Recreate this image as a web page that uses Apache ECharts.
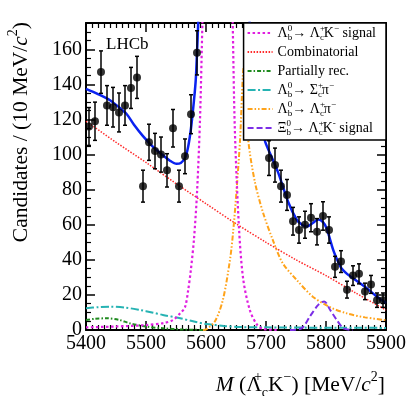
<!DOCTYPE html>
<html>
<head>
<meta charset="utf-8">
<script src="https://cdn.jsdelivr.net/npm/echarts@6/dist/echarts.min.js"></script>
<style>
  html, body { margin: 0; padding: 0; background: #fff; }
  #chart { width: 419px; height: 396px; }
</style>
</head>
<body>
<div id="chart"></div>
<script>
const SERIF = '"Liberation Serif", "DejaVu Serif", serif';

// x axis (MeV/c^2) and y axis ranges
const massMin = 5400;
const massMax = 5900;
const massStep = 100;
const countMax = 175;
const countStep = 20;

// data: bin centres, candidates per 10 MeV, and their errors
const binCentres = [
  5405, 5415, 5425, 5435, 5445, 5455, 5465, 5475, 5485, 5495,
  5505, 5515, 5525, 5535, 5545, 5555, 5565, 5575, 5585, 5595,
  5605, 5615, 5625, 5635, 5645, 5655, 5665, 5675, 5685, 5695,
  5705, 5715, 5725, 5735, 5745, 5755, 5765, 5775, 5785, 5795,
  5805, 5815, 5825, 5835, 5845, 5855, 5865, 5875, 5885, 5895
];
const counts = [
  116, 119, 147, 128, 127, 124, 128, 138, 144, 82,
  107, 102, 100, 91, 115, 82, 99, 123, 158, 260,
  480, 680, 760, 700, 560, 400, 280, 200, 150, 125,
  98, 94, 82, 77, 62, 57, 60, 64, 56, 65,
  57, 36, 39, 23, 31, 32, 22, 26, 17, 17
];
const countErrors = [
  10.8, 10.9, 12.1, 11.3, 11.3, 11.1, 11.3, 11.7, 12.0, 9.1,
  10.3, 10.1, 10.0, 9.5, 10.7, 9.1, 9.9, 11.1, 12.6, 16.1,
  21.9, 26.1, 27.6, 26.5, 23.7, 20.0, 16.7, 14.1, 12.2, 11.2,
  9.9, 9.7, 9.1, 8.8, 7.9, 7.5, 7.7, 8.0, 7.5, 8.1,
  7.5, 6.0, 6.2, 4.8, 5.6, 5.7, 4.7, 5.1, 4.1, 4.1
];

// fit curves, [mass, candidates]
const fitTotal = [
  [5400, 137.5], [5420, 134.5], [5440, 131], [5455, 127], [5468, 123], [5480, 117],
  [5495, 110.5], [5510, 105], [5523, 101], [5540, 96.5], [5551, 94.7], [5558, 95.2],
  [5565, 98], [5570, 104], [5575, 115], [5580, 131], [5583, 143], [5585, 158],
  [5587, 175], [5590, 210], [5600, 330], [5620, 720], [5640, 420], [5660, 230],
  [5680, 150], [5690, 125], [5698, 108.2], [5705, 102], [5720, 90], [5737, 73],
  [5751, 63], [5760, 60], [5768, 59], [5778, 61], [5787, 63], [5795, 61.5],
  [5801, 58], [5812, 45.7], [5820, 39], [5826, 35], [5835, 32], [5845, 29.5],
  [5868, 23.8], [5885, 19], [5900, 15.5]
];
const signalLcK = [
  [5400, 1.5], [5450, 2], [5500, 2.8], [5530, 4], [5545, 5.7], [5557, 9.5],
  [5565, 13], [5570, 22], [5575, 35], [5580, 52], [5585, 78], [5590, 120],
  [5594, 175], [5600, 260], [5610, 480], [5619, 600], [5630, 470], [5638, 280],
  [5644.5, 175], [5648, 115], [5655, 58], [5662, 29], [5673, 11.4], [5685, 3],
  [5695, 0.6], [5720, 0]
];
const combinatorial = [
  [5400, 119], [5450, 107], [5500, 95.5], [5550, 83.5], [5600, 72], [5650, 60.6],
  [5700, 50], [5750, 40], [5800, 31], [5850, 21], [5900, 11.4]
];
const partiallyRec = [
  [5400, 5.7], [5415, 6.4], [5435, 6.7], [5455, 5.8], [5473, 3.8], [5501, 1.9],
  [5528, 1], [5560, 0.3], [5600, 0]
];
const sigmaCPi = [
  [5400, 12.4], [5420, 13], [5440, 13.3], [5465, 12.8], [5490, 11.4], [5510, 10],
  [5528, 8.6], [5557, 6.7], [5580, 4.8], [5601, 3.4], [5630, 2.3], [5657, 1.7],
  [5700, 1.5], [5800, 1.3], [5900, 1.2]
];
const lambdaCPi = [
  [5595, 0], [5601, 0.5], [5615, 5], [5628, 17], [5640, 40], [5645.5, 57], [5651, 80],
  [5656.7, 108], [5663, 150], [5670.5, 108], [5681.7, 84], [5695, 67], [5711.7, 51],
  [5728, 38], [5751, 28.6], [5778, 19], [5806.7, 13], [5834.5, 9.5], [5865, 7.2],
  [5900, 5.6]
];
const xibSignal = [
  [5740, 0], [5759, 0.9], [5773, 7.6], [5787, 14.3], [5797, 16.3], [5807, 11.4],
  [5818, 5.7], [5829, 1], [5845, 0]
];

const legendNames = ['sigLcK', 'comb', 'partial', 'sigmaPi', 'lcPi', 'xib'];
const legendLabels = {
  sigLcK: '{t|Λ}{sp0|0}{sb|b}{t|→ Λ}{sp0|+}{sb|c}{t|K}{sp|−}{t| signal}',
  comb: '{t|Combinatorial}',
  partial: '{t|Partially rec.}',
  sigmaPi: '{t|Λ}{sp0|0}{sb|b}{t|→ Σ}{sp0|+}{sb|c}{t|π}{sp|−}',
  lcPi: '{t|Λ}{sp0|0}{sb|b}{t|→ Λ}{sp0|+}{sb|c}{t|π}{sp|−}',
  xib: '{t|Ξ}{sp0|0}{sb|b}{t|→ Λ}{sp0|+}{sb|c}{t|K}{sp|-}{t| signal}'
};

const legendRich = {
  t: { fontFamily: SERIF, fontSize: 14, lineHeight: 18, color: '#000' },
  sp0: { fontFamily: SERIF, fontSize: 9, lineHeight: 18, height: 9, verticalAlign: 'top', width: 0, color: '#000' },
  sp: { fontFamily: SERIF, fontSize: 9, lineHeight: 18, height: 9, verticalAlign: 'top', color: '#000' },
  sb: { fontFamily: SERIF, fontSize: 9, lineHeight: 18, height: 9, verticalAlign: 'bottom', color: '#000' }
};

const titleRich = {
  i: { fontFamily: SERIF, fontSize: 21.5, fontStyle: 'italic', lineHeight: 30, color: '#000' },
  sp0: { fontFamily: SERIF, fontSize: 14, lineHeight: 30, height: 14, verticalAlign: 'top', width: 0, color: '#000' },
  sp: { fontFamily: SERIF, fontSize: 14, lineHeight: 30, height: 14, verticalAlign: 'top', color: '#000' },
  sb: { fontFamily: SERIF, fontSize: 14, lineHeight: 30, height: 14, verticalAlign: 'bottom', color: '#000' }
};

function curveSeries(name, data, color, width, dash) {
  return {
    name,
    type: 'line',
    data,
    symbol: 'none',
    showSymbol: false,
    smooth: 0.3,
    clip: true,
    z: 2,
    lineStyle: { color, width, type: dash },
    itemStyle: { color }
  };
}

function axisCommon(position, minorSplit, showLabels) {
  return {
    type: 'value',
    position,
    axisLine: { show: true, onZero: false, lineStyle: { color: '#000', width: 2 } },
    axisTick: { show: true, inside: true, length: 9, lineStyle: { color: '#000', width: 1.5 } },
    minorTick: { show: true, splitNumber: minorSplit, length: 5, lineStyle: { color: '#000', width: 1.2 } },
    splitLine: { show: false },
    axisLabel: {
      show: showLabels,
      color: '#000',
      fontFamily: SERIF,
      fontSize: 20,
      formatter: (v) => String(v)
    }
  };
}

const chart = echarts.init(document.getElementById('chart'));

const xBottom = Object.assign(axisCommon('bottom', 10, true), { min: massMin, max: massMax, interval: massStep });
xBottom.axisLabel.margin = 4;
const xTop = Object.assign(axisCommon('top', 10, false), { min: massMin, max: massMax, interval: massStep });
const yLeft = Object.assign(axisCommon('left', 4, true), { min: 0, max: countMax, interval: countStep });
yLeft.axisLabel.margin = 4;
yLeft.axisLabel.showMaxLabel = false;
const yRight = Object.assign(axisCommon('right', 4, false), { min: 0, max: countMax, interval: countStep });

chart.setOption({
  animation: false,
  backgroundColor: '#fff',
  grid: { left: 86, right: 33, top: 23, bottom: 66, containLabel: false, outerBoundsMode: 'none' },
  xAxis: [xBottom, xTop],
  yAxis: [yLeft, yRight],
  legend: {
    data: legendNames,
    orient: 'vertical',
    right: 33,
    top: 23,
    z: 20,
    padding: [1, 10, 3, 3],
    itemWidth: 25,
    itemHeight: 14,
    itemGap: 1,
    selectedMode: false,
    backgroundColor: '#fff',
    borderColor: '#000',
    borderWidth: 1.5,
    borderRadius: 0,
    itemStyle: { opacity: 0 },
    textStyle: { fontFamily: SERIF, fontSize: 14, lineHeight: 18, color: '#000', rich: legendRich },
    formatter: (name) => legendLabels[name]
  },
  graphic: [
    {
      type: 'text', x: 385, y: 385, z: 10,
      style: {
        text: '{i|M} (Λ{sp0|+}{sb|c}K{sp|−}) [MeV/{i|c}{sp|2}]',
        fontFamily: SERIF, fontSize: 21.5, lineHeight: 30, fill: '#000',
        align: 'right', verticalAlign: 'middle', rich: titleRich
      }
    },
    {
      type: 'text', x: 21, y: 22, rotation: Math.PI / 2, z: 10,
      style: {
        text: 'Candidates / (10 MeV/{i|c}{sp|2})',
        fontFamily: SERIF, fontSize: 21.5, lineHeight: 30, fill: '#000',
        align: 'right', verticalAlign: 'middle', rich: titleRich
      }
    },
    {
      type: 'text', x: 106, y: 45, z: 10,
      style: {
        text: 'LHCb', fontFamily: SERIF, fontSize: 17, fill: '#000',
        align: 'left', verticalAlign: 'middle'
      }
    }
  ],
  series: [
    curveSeries('sigmaPi', sigmaCPi, '#26b3b3', 2, [8, 2.5, 2, 2.5]),
    curveSeries('partial', partiallyRec, '#1f8a1f', 2, [4, 2, 1.5, 2]),
    curveSeries('comb', combinatorial, '#ff2a2a', 1.5, [1.5, 1.5]),
    curveSeries('lcPi', lambdaCPi, '#ffa31a', 2, [5, 2, 1.5, 2, 1.5, 2]),
    curveSeries('xib', xibSignal, '#7b2ee6', 2, [6, 3]),
    curveSeries('sigLcK', signalLcK, '#e01ee0', 2.2, [2.5, 2.5]),
    {
      name: 'fit',
      type: 'line',
      data: fitTotal,
      symbol: 'none',
      showSymbol: false,
      smooth: 0.3,
      clip: true,
      z: 3,
      lineStyle: { color: '#0a22f0', width: 2.5 }
    },
    {
      name: 'errors',
      type: 'custom',
      clip: true,
      z: 4,
      data: binCentres.map((m, i) => [m, counts[i], countErrors[i]]),
      encode: { x: 0, y: 1 },
      renderItem: (params, api) => {
        const m = api.value(0);
        const n = api.value(1);
        const e = api.value(2);
        const hi = api.coord([m, n + e]);
        const lo = api.coord([m, n - e]);
        const style = { stroke: '#000', lineWidth: 1.5 };
        return {
          type: 'group',
          children: [
            { type: 'line', shape: { x1: hi[0], y1: hi[1], x2: lo[0], y2: lo[1] }, style },
            { type: 'line', shape: { x1: hi[0] - 2, y1: hi[1], x2: hi[0] + 2, y2: hi[1] }, style },
            { type: 'line', shape: { x1: lo[0] - 2, y1: lo[1], x2: lo[0] + 2, y2: lo[1] }, style }
          ]
        };
      }
    },
    {
      name: 'data',
      type: 'scatter',
      z: 5,
      symbol: 'circle',
      symbolSize: 8,
      itemStyle: { color: '#000' },
      data: binCentres.map((m, i) => [m, counts[i]])
    }
  ]
});
</script>
</body>
</html>
